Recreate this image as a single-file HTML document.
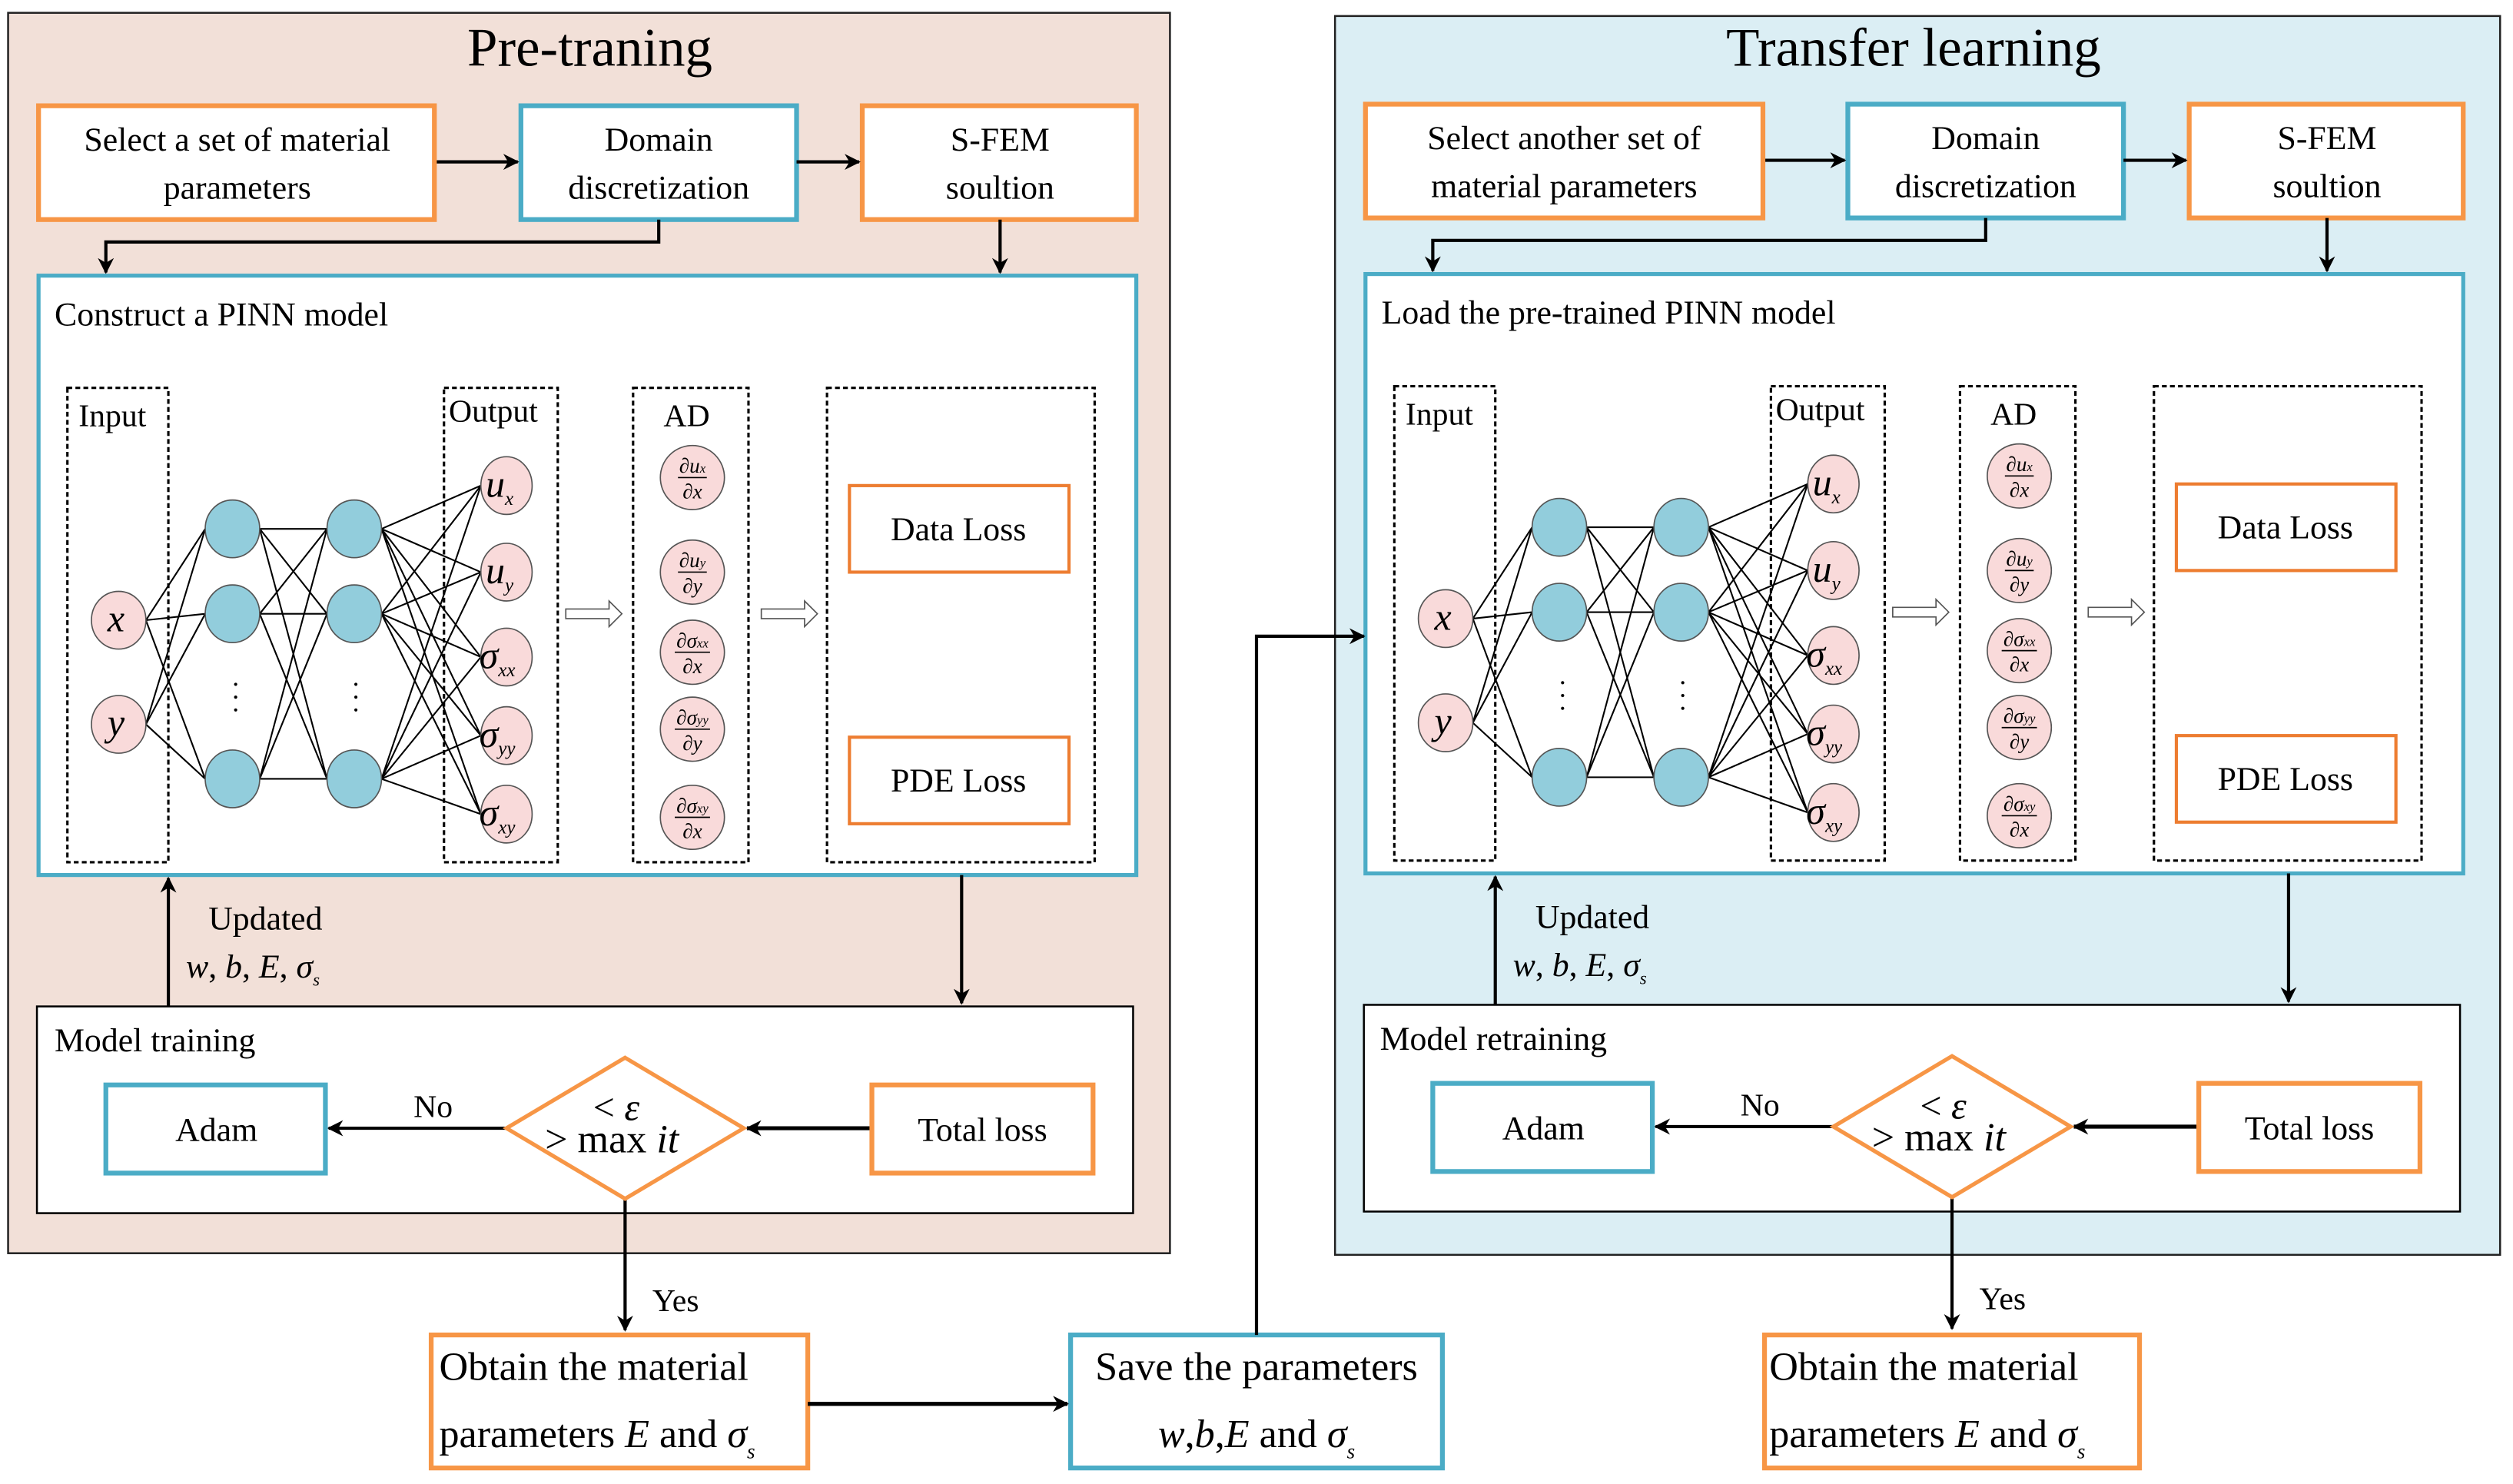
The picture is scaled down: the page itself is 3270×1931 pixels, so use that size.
<!DOCTYPE html>
<html><head><meta charset="utf-8"><style>html,body{margin:0;padding:0;background:#fff}svg{display:block}</style></head><body>
<svg width="3270" height="1931" viewBox="0 0 1568 926" xmlns="http://www.w3.org/2000/svg" font-family="'Liberation Serif', serif">
<defs>
<marker id="ah" markerWidth="10" markerHeight="10" refX="9" refY="5" orient="auto" markerUnits="userSpaceOnUse"><path d="M0,0 L10,5 L0,10 L3,5 z" fill="#000"/></marker>
<g id="net" font-family="'Liberation Serif', serif">
 <g stroke="#000" stroke-width="1" fill="none">
  <rect x="42" y="242" width="63" height="296" stroke-dasharray="3,2" stroke-width="1.5"/>
  <rect x="277" y="242" width="71" height="296" stroke-dasharray="3,2" stroke-width="1.5"/>
  <rect x="395" y="242" width="72" height="296" stroke-dasharray="3,2" stroke-width="1.5"/>
  <rect x="516" y="242" width="167" height="296" stroke-dasharray="3,2" stroke-width="1.5"/>
  <path d="M91,387L128,330M91,387L128,383M91,387L128,486M91,452L128,330M91,452L128,383M91,452L128,486"/>
  <path d="M162,330L204,330M162,330L204,383M162,330L204,486M162,383L204,330M162,383L204,383M162,383L204,486M162,486L204,330M162,486L204,383M162,486L204,486"/>
  <path d="M238,330L300,303M238,330L300,357M238,330L300,410M238,330L300,459M238,330L300,508M238,383L300,303M238,383L300,357M238,383L300,410M238,383L300,459M238,383L300,508M238,486L300,303M238,486L300,357M238,486L300,410M238,486L300,459M238,486L300,508"/>
 </g>
 <g fill="#f9dada" stroke="#555" stroke-width="0.8">
  <ellipse cx="74" cy="387" rx="17" ry="18"/><ellipse cx="74" cy="452" rx="17" ry="18"/>
  <ellipse cx="316" cy="303" rx="16" ry="18"/><ellipse cx="316" cy="357" rx="16" ry="18"/><ellipse cx="316" cy="410" rx="16" ry="18"/><ellipse cx="316" cy="459" rx="16" ry="18"/><ellipse cx="316" cy="508" rx="16" ry="18"/>
  <ellipse cx="432" cy="298" rx="20" ry="20"/><ellipse cx="432" cy="357" rx="20" ry="20"/><ellipse cx="432" cy="407" rx="20" ry="20"/><ellipse cx="432" cy="455" rx="20" ry="20"/><ellipse cx="432" cy="510" rx="20" ry="20"/>
 </g>
 <g fill="#92cddc" stroke="#555" stroke-width="0.8">
  <ellipse cx="145" cy="330" rx="17" ry="18"/><ellipse cx="145" cy="383" rx="17" ry="18"/><ellipse cx="145" cy="486" rx="17" ry="18"/>
  <ellipse cx="221" cy="330" rx="17" ry="18"/><ellipse cx="221" cy="383" rx="17" ry="18"/><ellipse cx="221" cy="486" rx="17" ry="18"/>
 </g>
 <g fill="#000"><circle cx="147" cy="427" r="1"/><circle cx="147" cy="435" r="1"/><circle cx="147" cy="443" r="1"/><circle cx="222" cy="427" r="1"/><circle cx="222" cy="435" r="1"/><circle cx="222" cy="443" r="1"/></g>
 <g fill="#fff" stroke="#555" stroke-width="0.8"><path d="M353,380h27v-5l8,8l-8,8v-5h-27z"/><path d="M475,380h27v-5l8,8l-8,8v-5h-27z"/></g>
 <g font-size="20"><text x="49" y="266">Input</text><text x="280" y="263">Output</text><text x="414" y="266">AD</text></g>
 <g font-style="italic" font-size="24"><text x="67" y="394">x</text><text x="67" y="459">y</text></g>
 <g font-style="italic" font-size="24"><text x="303" y="310">u<tspan font-size="12" dy="5">x</tspan></text><text x="303" y="364">u<tspan font-size="12" dy="5">y</tspan></text><text x="299" y="417">σ<tspan font-size="12" dy="5">xx</tspan></text><text x="299" y="466">σ<tspan font-size="12" dy="5">yy</tspan></text><text x="299" y="515">σ<tspan font-size="12" dy="5">xy</tspan></text></g>
 <g font-style="italic" font-size="13" text-anchor="middle">
  <text x="432" y="295">∂u<tspan font-size="8">x</tspan></text><text x="432" y="311">∂x</text>
  <text x="432" y="354">∂u<tspan font-size="8">y</tspan></text><text x="432" y="370">∂y</text>
  <text x="432" y="404">∂σ<tspan font-size="8">xx</tspan></text><text x="432" y="420">∂x</text>
  <text x="432" y="452">∂σ<tspan font-size="8">yy</tspan></text><text x="432" y="468">∂y</text>
  <text x="432" y="507">∂σ<tspan font-size="8">xy</tspan></text><text x="432" y="523">∂x</text>
 </g>
 <g stroke="#000" stroke-width="0.8"><path d="M423,298h18M423,357h18M421,407h22M421,455h22M421,510h22"/></g>
 <rect x="530" y="303" width="137" height="54" fill="#fff" stroke="#ed7d31" stroke-width="2"/>
 <rect x="530" y="460" width="137" height="54" fill="#fff" stroke="#ed7d31" stroke-width="2"/>
 <text x="598" y="337" font-size="21" text-anchor="middle">Data Loss</text>
 <text x="598" y="494" font-size="21" text-anchor="middle">PDE Loss</text>
</g>
<g id="flow" font-family="'Liberation Serif', serif">
 <rect x="325" y="66" width="172" height="71" fill="#fff" stroke="#4bacc6" stroke-width="3"/>
 <rect x="538" y="66" width="171" height="71" fill="#fff" stroke="#f79646" stroke-width="3"/>
 <text x="411" y="94" font-size="21" text-anchor="middle">Domain</text><text x="411" y="124" font-size="21" text-anchor="middle">discretization</text>
 <text x="624" y="94" font-size="21" text-anchor="middle">S-FEM</text><text x="624" y="124" font-size="21" text-anchor="middle">soultion</text>
 <g stroke="#000" stroke-width="2" fill="none">
  <path d="M271,101H323" marker-end="url(#ah)"/><path d="M497,101H536" marker-end="url(#ah)"/>
  <path d="M411,137V151H66V170" marker-end="url(#ah)"/><path d="M624,137V170" marker-end="url(#ah)"/>
 </g>
 <rect x="24" y="172" width="685" height="374" fill="#fff" stroke="#4bacc6" stroke-width="2.5"/>
 <use href="#net"/>
 <rect x="23" y="628" width="684" height="129" fill="#fff" stroke="#000" stroke-width="1.2"/>
 <g stroke="#000" stroke-width="2" fill="none">
  <path d="M105,628V548" marker-end="url(#ah)"/><path d="M600,546V626" marker-end="url(#ah)"/>
  <path d="M544,704H466" marker-end="url(#ah)" stroke-width="2.5"/><path d="M316,704H205" marker-end="url(#ah)"/>
  <path d="M390,748V830" marker-end="url(#ah)"/>
 </g>
 <text x="130" y="580" font-size="21">Updated</text>
 <text x="116" y="610" font-size="21" font-style="italic">w<tspan font-style="normal">,</tspan> b<tspan font-style="normal">,</tspan> E<tspan font-style="normal">,</tspan>  σ<tspan font-size="11" dy="5">s</tspan></text>
 <rect x="66" y="677" width="137" height="55" fill="#fff" stroke="#4bacc6" stroke-width="3"/>
 <text x="135" y="712" font-size="21" text-anchor="middle">Adam</text>
 <path d="M390,660L464,704L390,748L316,704z" fill="#fff" stroke="#f79646" stroke-width="2.5"/>
 <text x="370" y="699" font-size="24">&lt; <tspan font-style="italic">ε</tspan></text>
 <text x="340" y="719" font-size="25">&gt; max <tspan font-style="italic">it</tspan></text>
 <rect x="544" y="677" width="138" height="55" fill="#fff" stroke="#f79646" stroke-width="3"/>
 <text x="613" y="712" font-size="21" text-anchor="middle">Total loss</text>
 <text x="258" y="697" font-size="20">No</text>
 <text x="407" y="818" font-size="20">Yes</text>
</g>
</defs>
<rect x="5" y="8" width="725" height="774" fill="#f2e0d8" stroke="#222" stroke-width="1.2"/>
<rect x="833" y="10" width="727" height="773" fill="#dbeef4" stroke="#222" stroke-width="1.2"/>
<text x="368" y="41" font-size="34" text-anchor="middle">Pre-traning</text>
<text x="1194" y="41" font-size="34" text-anchor="middle">Transfer learning</text>
<use href="#flow"/>
<use href="#flow" x="828" y="-1"/>
<rect x="24" y="66" width="247" height="71" fill="#fff" stroke="#f79646" stroke-width="3"/>
<text x="148" y="94" font-size="21" text-anchor="middle">Select a set of material</text><text x="148" y="124" font-size="21" text-anchor="middle">parameters</text>
<rect x="852" y="65" width="248" height="71" fill="#fff" stroke="#f79646" stroke-width="3"/>
<text x="976" y="93" font-size="21" text-anchor="middle">Select another set of</text><text x="976" y="123" font-size="21" text-anchor="middle">material parameters</text>
<text x="34" y="203" font-size="21">Construct a PINN model</text>
<text x="862" y="202" font-size="21">Load the pre-trained PINN model</text>
<text x="34" y="656" font-size="21">Model training</text>
<text x="861" y="655" font-size="21">Model retraining</text>
<rect x="269" y="833" width="235" height="83" fill="#fff" stroke="#f79646" stroke-width="3"/>
<text x="274" y="861" font-size="25">Obtain the material</text>
<text x="274" y="903" font-size="25">parameters <tspan font-style="italic">E</tspan> and <tspan font-style="italic">σ</tspan><tspan font-style="italic" font-size="13" dy="7">s</tspan></text>
<rect x="668" y="833" width="232" height="83" fill="#fff" stroke="#4bacc6" stroke-width="3"/>
<text x="784" y="861" font-size="25" text-anchor="middle">Save the parameters</text>
<text x="784" y="903" font-size="25" text-anchor="middle"><tspan font-style="italic">w</tspan>,<tspan font-style="italic">b</tspan>,<tspan font-style="italic">E</tspan> and <tspan font-style="italic">σ</tspan><tspan font-style="italic" font-size="13" dy="7">s</tspan></text>
<rect x="1101" y="833" width="234" height="83" fill="#fff" stroke="#f79646" stroke-width="3"/>
<text x="1104" y="861" font-size="25">Obtain the material</text>
<text x="1104" y="903" font-size="25">parameters <tspan font-style="italic">E</tspan> and <tspan font-style="italic">σ</tspan><tspan font-style="italic" font-size="13" dy="7">s</tspan></text>
<g stroke="#000" stroke-width="2" fill="none">
 <path d="M504,876H666" marker-end="url(#ah)" stroke-width="2.5"/>
 <path d="M784,833V397H851" marker-end="url(#ah)"/>
</g>
</svg>
</body></html>
